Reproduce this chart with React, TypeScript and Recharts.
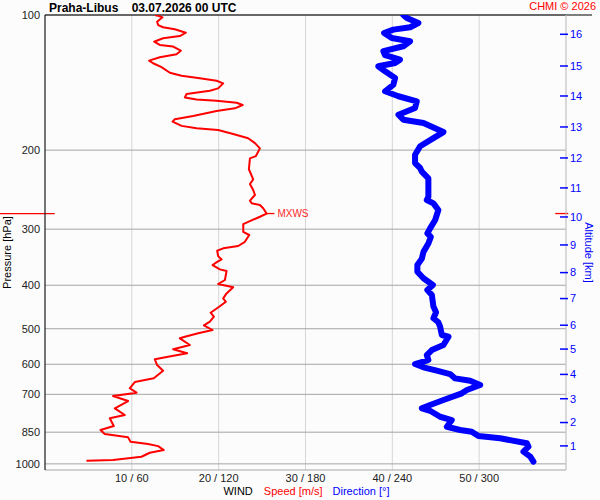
import React from 'react'
import {
  ComposedChart,
  Scatter,
  XAxis,
  YAxis,
  CartesianGrid,
  ReferenceLine,
} from 'recharts'

const speedPressure = [
  100, 100.5, 101.2, 103.5, 105.3, 106.5, 107.6, 109.5, 111.4, 112.7, 114.7, 116.6, 117.6, 120.1,
  122.3, 124.2, 126.4, 128.1, 130.7, 134.5, 136.6, 138.4, 140.1, 142.0, 145.7, 147.5, 150.0, 152.6,
  154.2, 155.2, 156.9, 158.7, 161.4, 163.6, 167.8, 170.7, 172.8, 176.6, 178.7, 180.4, 184.1, 188.2,
  193.0, 198.2, 206.2, 208.7, 220.6, 232.3, 238.0, 245.4, 251.8, 259.2, 262.7, 265.0, 269.5, 276.9,
  281.5, 288.9, 292.3, 304.3, 309.1, 320.1, 327.1, 331.0, 335.1, 344.5, 350.4, 354.7, 360.6, 368.7,
  371.9, 389.4, 397.5, 404.3, 417.1, 427.9, 435.4, 446.6, 460.5, 470.0, 482.1, 491.5, 503.3, 511.9,
  520.9, 525.2, 543.5, 555.6, 567.1, 577.1, 584.9, 602.3, 620.1, 644.8, 657.1, 678.6, 694.1, 706.1,
  724.5, 752.0, 778.4, 791.6, 823.7, 840.7, 858.2, 872.9, 892.9, 903.6, 913.0, 931.6, 944.6, 964.1,
  980.7, 984.2,
]
const speedValues = [
  12.65, 13.14, 13.53, 12.91, 13.03, 13.6, 14.95, 16.22, 15.53, 13.6, 12.57, 13.22, 14.76, 15.64,
  15.15, 13.22, 11.99, 12.45, 13.42, 14.38, 15.73, 17.83, 19.76, 20.52, 19.94, 18.99, 16.3, 16.11,
  17.45, 19.76, 22.07, 22.76, 21.87, 19.76, 17.06, 14.95, 14.69, 15.73, 17.45, 19.94, 21.67, 23.4,
  24.18, 24.75, 24.29, 23.6, 23.48, 23.98, 23.6, 23.98, 24.18, 23.6, 23.8, 24.75, 25.13, 25.52,
  24.75, 23.4, 22.83, 22.83, 23.52, 23.02, 22.25, 20.52, 19.83, 19.94, 20.34, 19.83, 19.3, 20.14,
  20.91, 20.72, 19.94, 21.67, 20.91, 20.52, 20.83, 20.06, 19.07, 19.45, 18.99, 18.3, 19.3, 17.64,
  16.11, 15.53, 16.68, 14.76, 16.37, 14.18, 12.65, 12.91, 13.6, 12.53, 10.34, 9.76, 10.54, 7.84,
  9.57, 8.04, 9.19, 7.46, 7.92, 6.39, 6.88, 9.57, 9.85, 11.87, 13.03, 13.68, 12.07, 11.11,
  7.84, 4.77,
]

// pressure levels (hPa) and wind direction (deg)
const dirPressure = [
  100, 101.5, 104.2, 106.5, 107.8, 109.7, 112.5, 114.4, 117.4, 120.4, 122.9, 125.8, 127.9, 130.1,
  133.5, 138.1, 143.0, 147.9, 151.7, 155.7, 161.2, 166.8, 171.1, 174.0, 182.3, 188.0, 196.1, 204.8,
  213.7, 219.2, 223.4, 231.2, 254.0, 258.3, 262.8, 271.9, 286.2, 298.8, 306.7, 312.1, 323.0, 337.1,
  348.9, 360.6, 373.2, 385.9, 399.5, 409.9, 420.5, 446.3, 459.4, 473.9, 483.7, 494.8, 516.3, 520.9,
  543.5, 557.7, 572.2, 587.0, 599.2, 609.4, 620.1, 630.8, 645.1, 653.1, 667.4, 684.7, 696.4, 720.8,
  739.5, 752.2, 761.6, 785.3, 798.7, 826.6, 840.7, 848.0, 866.9, 877.2, 900.0, 915.8, 939.4, 963.7,
  988.7,
]
const dirValues = [
  247.6, 250.0, 258.0, 252.3, 240.7, 234.3, 239.6, 252.3, 247.6, 233.8, 235.0, 245.3, 241.9, 230.3,
  235.0, 241.9, 240.7, 235.0, 244.2, 256.9, 255.7, 244.2, 247.6, 261.5, 275.3, 268.4, 259.2, 255.7,
  255.7, 259.2, 260.4, 264.9, 264.9, 263.8, 268.4, 271.8, 269.6, 266.1, 264.2, 266.6, 264.9, 261.5,
  260.4, 257.3, 257.3, 261.5, 268.0, 264.2, 267.3, 268.4, 270.2, 268.4, 271.8, 273.0, 274.2, 278.8,
  275.3, 267.3, 263.8, 264.9, 255.7, 261.5, 270.7, 279.9, 283.4, 293.8, 300.7, 291.5, 288.0, 275.3,
  266.1, 260.4, 266.1, 273.0, 281.1, 277.7, 286.8, 294.9, 299.5, 314.5, 333.0, 334.1, 330.6, 335.3,
  337.5,
]

const pressureTicks = [100, 200, 300, 400, 500, 600, 700, 850, 925, 1000]
const speedTicks = [10, 20, 30, 40, 50]
// altitude labels (km) and the pressure at which each sits
const altitudeKm = [1, 2, 3, 4, 5, 6, 7, 8, 9, 10, 11, 12, 13, 14, 15, 16]
const altitudePressure = [
  912, 809, 716, 632, 555, 491, 428.3, 374.9, 325.3, 281.8, 242.8, 208.2, 177.6, 151.5, 129.9, 110.4,
]

const maxWindPressure = 276.9
const maxWindSpeed = 25.52

const speedData = speedPressure.map((p, i) => ({ p, s: speedValues[i] }))
const dirData = dirPressure.map((p, i) => ({ p, d: dirValues[i] }))

const FONT = '"Liberation Sans", Arial, sans-serif'
const RED = '#ff0000'
const BLUE = '#0000ff'

function noDot() {
  return <g />
}

function AltitudeTick(props: any) {
  const { x, y, payload } = props
  const i = altitudePressure.indexOf(payload.value)
  return (
    <g>
      <line x1={x - 6} y1={y} x2={x + 2} y2={y} stroke={BLUE} strokeWidth={1.5} />
      <text x={x + 4} y={y} dy="0.35em" fill={BLUE} fontSize={11} fontFamily={FONT}>
        {altitudeKm[i]}
      </text>
    </g>
  )
}

function WindLabel(props: any) {
  const { viewBox } = props
  const cx = viewBox.x + viewBox.width / 2
  return (
    <text x={cx + 1} y={viewBox.y + 24.5} textAnchor="middle" fontSize={11} fontFamily={FONT}>
      <tspan fill="#000">WIND</tspan>
      <tspan fill={RED} dx={11}>Speed [m/s]</tspan>
      <tspan fill={BLUE} dx={10}>Direction [°]</tspan>
    </text>
  )
}

function PressureLabel(props: any) {
  const { viewBox } = props
  const y = viewBox.y + viewBox.height / 2 + 10
  return (
    <text
      x={11}
      y={y}
      transform={`rotate(-90 11 ${y})`}
      textAnchor="middle"
      fontSize={11}
      fontFamily={FONT}
      fill="#000"
    >
      Pressure [hPa]
    </text>
  )
}

function AltitudeLabel(props: any) {
  const { viewBox } = props
  const y = viewBox.y + viewBox.height / 2 + 10
  return (
    <text
      x={585}
      y={y}
      transform={`rotate(90 585 ${y})`}
      textAnchor="middle"
      fontSize={11}
      fontFamily={FONT}
      fill={BLUE}
    >
      Altitude [km]
    </text>
  )
}

export default function App() {
  return (
    <div style={{ position: 'relative', width: 600, height: 500, background: '#fcfcfc', fontFamily: FONT }}>
      <style>{'body{margin:0}'}</style>
      <div
        style={{
          position: 'absolute',
          left: 49,
          top: 2,
          fontSize: 12,
          lineHeight: '12px',
          fontWeight: 'bold',
          whiteSpace: 'pre',
          color: '#000',
        }}
      >
        {'Praha-Libus    03.07.2026 00 UTC'}
      </div>
      <div
        style={{
          position: 'absolute',
          right: 4,
          top: 1,
          fontSize: 11,
          lineHeight: '11px',
          color: RED,
        }}
      >
        CHMI © 2026
      </div>
      <ComposedChart width={600} height={500} margin={{ top: 15, right: 0, bottom: 0, left: 0 }}>
        <CartesianGrid xAxisId="spd" yAxisId="p" horizontal={false} stroke="#d6d6d6" />
        <CartesianGrid xAxisId="spd" yAxisId="p" vertical={false} stroke="#a4a4a4" />
        <XAxis
          xAxisId="spd"
          dataKey="s"
          type="number"
          domain={[0, 60]}
          ticks={speedTicks}
          allowDataOverflow
          height={30}
          axisLine={false}
          tickLine={false}
          tickSize={0}
          tickMargin={4}
          tick={{ fontSize: 11, fill: '#222', fontFamily: FONT }}
          tickFormatter={(v: number) => `${v} / ${v * 6}`}
          label={<WindLabel />}
        />
        <XAxis
          xAxisId="dir"
          orientation="top"
          dataKey="d"
          type="number"
          domain={[0, 360]}
          allowDataOverflow
          height={0}
          hide
        />
        <YAxis
          yAxisId="p"
          dataKey="p"
          type="number"
          scale="log"
          domain={[100, 1032]}
          allowDataOverflow
          reversed
          ticks={pressureTicks}
          width={45}
          axisLine={{ stroke: '#000' }}
          tickLine={false}
          tickSize={0}
          tickMargin={5}
          tick={{ fontSize: 11, fill: '#222', fontFamily: FONT }}
          label={<PressureLabel />}
        />
        <YAxis
          yAxisId="alt"
          orientation="right"
          dataKey="p"
          type="number"
          scale="log"
          domain={[100, 1032]}
          allowDataOverflow
          reversed
          ticks={altitudePressure}
          width={34}
          axisLine={{ stroke: '#c8c8c8' }}
          tickLine={false}
          tickSize={0}
          tickMargin={0}
          tick={<AltitudeTick />}
          label={<AltitudeLabel />}
        />
        <ReferenceLine
          xAxisId="spd"
          yAxisId="p"
          segment={[{ x: 0, y: 100 }, { x: 63, y: 100 }]}
          ifOverflow="visible"
          stroke="#000"
        />
        <Scatter
          xAxisId="spd"
          yAxisId="p"
          data={speedData}
          line={{ stroke: RED, strokeWidth: 2, strokeLinejoin: 'round' }}
          lineType="joint"
          shape={noDot}
          isAnimationActive={false}
        />
        <Scatter
          xAxisId="dir"
          yAxisId="alt"
          data={dirData}
          line={{ stroke: BLUE, strokeWidth: 6, strokeLinejoin: 'round', strokeLinecap: 'round' }}
          lineType="joint"
          shape={noDot}
          isAnimationActive={false}
        />
        <ReferenceLine
          xAxisId="spd"
          yAxisId="p"
          segment={[{ x: -5.22, y: maxWindPressure }, { x: 1.12, y: maxWindPressure }]}
          ifOverflow="visible"
          stroke={RED}
          strokeWidth={1.3}
        />
        <ReferenceLine
          xAxisId="spd"
          yAxisId="p"
          segment={[{ x: 58.76, y: maxWindPressure }, { x: 60.26, y: maxWindPressure }]}
          ifOverflow="visible"
          stroke={RED}
          strokeWidth={1.3}
        />
        <ReferenceLine
          xAxisId="spd"
          yAxisId="p"
          segment={[{ x: maxWindSpeed, y: maxWindPressure }, { x: maxWindSpeed + 0.9, y: maxWindPressure }]}
          ifOverflow="visible"
          stroke={RED}
          strokeWidth={1.3}
          label={{ value: 'MXWS', position: 'right', offset: 3, fill: '#ff2a2a', fontSize: 10, fontFamily: FONT }}
        />
      </ComposedChart>
    </div>
  )
}
